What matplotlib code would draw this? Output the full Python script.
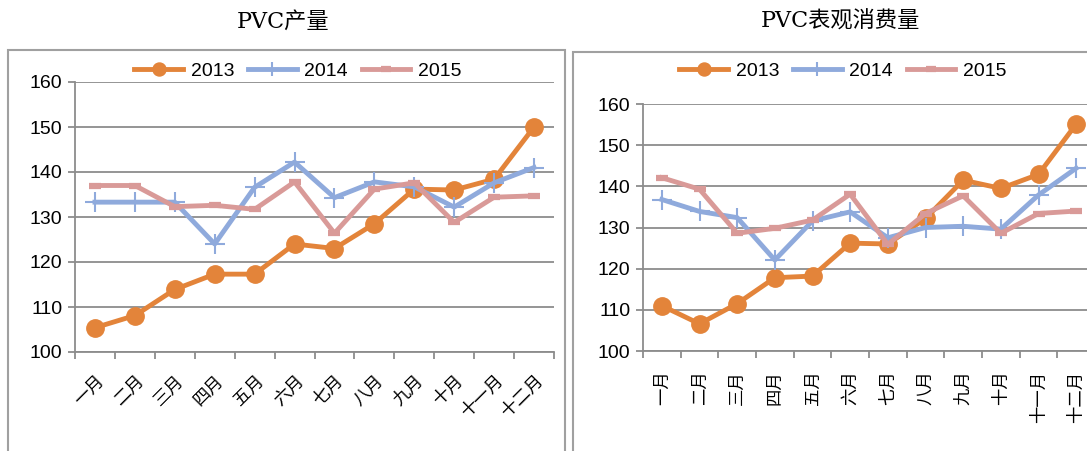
import matplotlib
matplotlib.use("Agg")
import matplotlib.pyplot as plt
from matplotlib.patches import Rectangle

plt.rcParams['font.family'] = ['Liberation Sans', 'Noto Sans CJK SC', 'DejaVu Sans']

months = ['一月', '二月', '三月', '四月', '五月', '六月',
          '七月', '八月', '九月', '十月', '十一月', '十二月']
years = ['2013', '2014', '2015']

# PVC产量
prod_2013 = [105.4, 108.1, 113.9, 117.3, 117.3, 124.0, 123.0, 128.5, 136.2, 136.0, 138.4, 150.0]
prod_2014 = [133.3, 133.3, 133.3, 124.0, 136.6, 142.2, 134.3, 137.8, 136.7, 132.2, 137.6, 141.0]
prod_2015 = [137.0, 137.0, 132.3, 132.6, 131.7, 137.8, 126.4, 136.2, 137.6, 128.8, 134.4, 134.7]

# PVC表观消费量
cons_2013 = [111.0, 106.6, 111.5, 117.8, 118.2, 126.2, 126.0, 132.2, 141.5, 139.5, 142.9, 155.1]
cons_2014 = [136.8, 133.9, 132.4, 122.1, 131.6, 133.8, 127.5, 130.0, 130.3, 129.6, 137.9, 144.4]
cons_2015 = [142.1, 139.3, 128.6, 129.8, 131.8, 138.1, 125.9, 133.4, 137.7, 128.6, 133.4, 134.0]

c_orange = '#E3843A'
c_blue = '#8FAADC'
c_pink = '#D99A98'
c_grid = '#8C8C8C'

W, H = 1087, 451
fig = plt.figure(figsize=(W / 100, H / 100), dpi=100)
fig.patch.set_facecolor('white')


def fx(px):
    return px / W


def fy(py):
    return 1 - py / H


# panel frames
fig.patches.append(Rectangle((fx(8), fy(460)), fx(557), fy(50) - fy(460),
                             transform=fig.transFigure, fill=False,
                             edgecolor='#A0A0A0', lw=1.5))
fig.patches.append(Rectangle((fx(573), fy(460)), fx(530), fy(52) - fy(460),
                             transform=fig.transFigure, fill=False,
                             edgecolor='#A0A0A0', lw=1.5))


def draw(ax, s13, s14, s15, rot):
    x = list(range(len(months)))
    ax.plot(x, s13, color=c_orange, lw=3.5, marker='o', ms=12.5, label=years[0], zorder=3)
    ax.plot(x, s14, color=c_blue, lw=3.5, marker='+', ms=14, mew=1.5, label=years[1], zorder=4)
    ax.plot(x, s15, color=c_pink, lw=3.5, marker='_', ms=9, mew=4.5, label=years[2], zorder=5)

    ax.set_ylim(100, 160)
    ax.set_yticks(range(100, 161, 10))
    ax.set_xlim(-0.5, len(months) - 0.5)
    ax.set_xticks(x)
    ax.set_xticks([i - 0.5 for i in range(len(months) + 1)], minor=True)
    ax.grid(axis='y', color=c_grid, lw=1.3)
    ax.set_axisbelow(True)
    for s in ['top', 'right']:
        ax.spines[s].set_visible(False)
    for s in ['left', 'bottom']:
        ax.spines[s].set_color(c_grid)
        ax.spines[s].set_linewidth(1.3)
    ax.tick_params(axis='y', length=5, color=c_grid, width=1.3, labelsize=14, pad=4)
    ax.tick_params(axis='x', which='major', length=0, pad=14)
    ax.tick_params(axis='x', which='minor', length=5, color=c_grid, width=1.3)
    if rot == 45:
        ax.set_xticklabels(months, rotation=45, ha='right', va='top',
                           rotation_mode='anchor', fontsize=12.5,
                           family=['Noto Sans CJK SC'])
    else:
        ax.set_xticklabels(months, rotation=90, ha='center', va='top',
                           fontsize=12.5, family=['Noto Sans CJK SC'])


legend_kw = dict(loc='center', bbox_transform=fig.transFigure, ncol=3,
                 frameon=False, fontsize=14, handlelength=2.5,
                 columnspacing=0.7, markerscale=0.75, handletextpad=0.4)

ax1 = fig.add_axes([fx(75), fy(352), fx(479), fy(82) - fy(352)])
draw(ax1, prod_2013, prod_2014, prod_2015, 45)
ax1.legend(bbox_to_anchor=(fx(298), fy(71)), **legend_kw)
fig.text(fx(283), fy(22), 'PVC产量', ha='center', va='center', fontsize=16,
         family=['DejaVu Serif', 'Noto Sans CJK SC'])

ax2 = fig.add_axes([fx(643), fy(351), fx(452), fy(104) - fy(351)])
draw(ax2, cons_2013, cons_2014, cons_2015, 90)
ax2.legend(bbox_to_anchor=(fx(843), fy(71)), **legend_kw)
fig.text(fx(840), fy(22), 'PVC表观消费量', ha='center', va='center', fontsize=16,
         family=['DejaVu Serif', 'Noto Sans CJK SC'])

fig.savefig('out.png', dpi=100)
